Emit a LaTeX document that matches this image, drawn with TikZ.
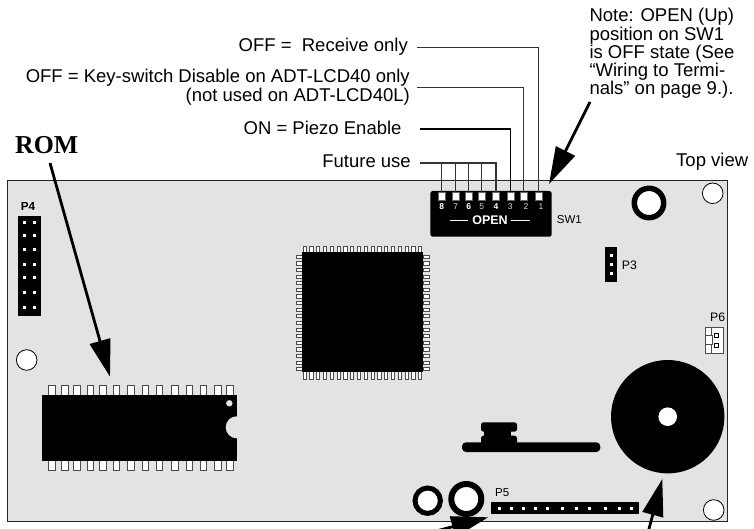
\documentclass[tikz,border=0pt]{standalone}
\usepackage{fontspec}
\setmainfont{Liberation Sans}
\newfontfamily\romfont{Liberation Serif}
\usetikzlibrary{arrows.meta}
\definecolor{boardgray}{gray}{0.89}

\begin{document}
\begin{tikzpicture}[x=1pt,y=-1pt]
\useasboundingbox (0,0) rectangle (754,529);
\clip (0,0) rectangle (754,529);
%%%%%%%%%%%%%%%%%%%%%%%%%%%%%%%%%%%%%%%%%%%%%%%%%%%%%%%%%%%%%%
%vars
\tikzstyle{label}=[inner sep=0pt,font={\fontsize{18.5}{16.25}\selectfont}]
\tikzstyle{small}=[inner sep=0pt,font={\fontsize{11.5}{12}\selectfont}]
\tikzstyle{small2}=[inner sep=0pt,font={\fontsize{12.3}{12}\selectfont}]
\tikzstyle{swwin}=[fill=white,draw=black!60,line width=0.4pt,minimum width=7pt,minimum height=8.5pt,inner sep=0pt]
\tikzstyle{swnum}=[inner sep=0pt,text=white,font={\fontsize{8.5}{9}\selectfont}]
\tikzstyle{hole}=[fill=white,draw=black,line width=0.8pt]
\tikzstyle{ring}=[fill=white,draw=black]
\tikzstyle{leg}=[fill=white,draw=black!70,line width=0.9pt]
\tikzstyle{dot}=[fill=white]
\tikzstyle{leader}=[draw=black!80,line width=1.2pt]
\tikzstyle{bigarrow}=[->,>={Triangle[length=37pt,width=21pt]},line width=2.8pt]

%%%%%%%%%%%%%%%%%%%%%%%%%%%%%%%%%%%%%%%%%%%%%%%%%%%%%%%%%%%%%%
%BOARD
\draw[fill=boardgray,draw=black!85,line width=1pt] (7,181) rectangle (727,521.5);
\draw[hole] (712.7,193.3) circle (10.3pt);
\draw[hole] (26.7,360) circle (10.3pt);
\draw[hole] (713.7,510) circle (10.3pt);
\draw[ring,line width=5.5pt] (649,203) circle (14.7pt);
\draw[ring,line width=5pt] (427.7,500.7) circle (12.7pt);
\draw[ring,line width=6pt] (466.3,499) circle (15pt);

%%%%%%%%%%%%%%%%%%%%%%%%%%%%%%%%%%%%%%%%%%%%%%%%%%%%%%%%%%%%%%
%headers
%P4
\fill[black] (18.3,215.7) rectangle (40.7,316);
\foreach \y in {223,235.7,249.7,264.3,277.7,292,307} {
  \fill[dot] (22.8,\y-1.5) rectangle (25.8,\y+1.5);
  \fill[dot] (32.8,\y-1.5) rectangle (35.8,\y+1.5);
}
\node[small,anchor=base west,font={\fontsize{11.7}{12}\bfseries\selectfont}] (P4) at (20.7,211) {P4};
%P3
\fill[black] (605,247.3) rectangle (617.3,282.3);
\foreach \y in {255,264,273.5} {
  \fill[dot] (609.5,\y-1.5) rectangle (612.5,\y+1.5);
}
\node[small2,anchor=base west] (P3) at (621.7,269) {P3};
%P5
\fill[black] (491,501.7) rectangle (639,514);
\foreach \x in {499,511,523.3,535.3,547.3,562.3,576,589.3,605,619.3,631.7} {
  \fill[dot] (\x-1.5,506.5) rectangle (\x+1.5,509.5);
}
\node[small,anchor=base west] (P5) at (495,496.7) {P5};
%P6
\draw[fill=white,draw=black!70,line width=0.7pt] (705.7,327.3) rectangle (723.3,353);
\draw[black!70,line width=0.7pt] (711,327.3) -- (711,353);
\draw[fill=white,draw=black!70,line width=0.7pt] (705.7,335) rectangle (712.3,344);
\draw[black,line width=0.7pt] (714.8,333) rectangle (718.8,337);
\draw[black,line width=0.7pt] (714.8,343) rectangle (718.8,347);
\node[small2,anchor=base west] (P6) at (710,321.7) {P6};

%%%%%%%%%%%%%%%%%%%%%%%%%%%%%%%%%%%%%%%%%%%%%%%%%%%%%%%%%%%%%%
%ROM chip
\foreach \x in {52,65,77,90.7,103,116.7,131,145.7,159.3,175,189.7,203.7,218,230} {
  \draw[leg] (\x-3.2,385.5) rectangle (\x+3.2,395.3);
  \draw[leg] (\x-3.2,460.7) rectangle (\x+3.2,470.5);
}
\fill[black] (41.7,395.3) rectangle (236.7,460.7);
\fill[boardgray] (236.7,427.3) circle (11pt);
\fill[boardgray] (229.3,403.3) circle (3.2pt);

%big chip
\foreach \i in {0,...,17} {
  \draw[leg,line width=0.8pt] (304.5+6.8*\i-1.6,246.5) rectangle (304.5+6.8*\i+1.6,252);
  \draw[leg,line width=0.8pt] (304.5+6.8*\i-1.6,371.5) rectangle (304.5+6.8*\i+1.6,379);
  \draw[leg,line width=0.8pt] (296.5,256.7+6.62*\i-1.6) rectangle (302.5,256.7+6.62*\i+1.6);
  \draw[leg,line width=0.8pt] (423,256.7+6.62*\i-1.6) rectangle (429,256.7+6.62*\i+1.6);
}
\fill[black] (302.3,251.7) rectangle (423.3,371.7);

%crystal
\fill[black,rounded corners=4pt] (462,442.3) rectangle (600.3,452);
\fill[black] (484,428) rectangle (510.7,445);
\fill[black,rounded corners=2.5pt] (481,422.3) rectangle (517,431.7);
\fill[black,rounded corners=2.5pt] (481,435.7) rectangle (517,446);

%piezo
\fill[black] (667.7,416.7) circle (56.7pt);
\fill[white] (667.7,416.7) circle (9.3pt);

%%%%%%%%%%%%%%%%%%%%%%%%%%%%%%%%%%%%%%%%%%%%%%%%%%%%%%%%%%%%%%
%SW1
\fill[black,rounded corners=2.5pt] (430.3,191) rectangle (551.7,236.7);
\foreach \n/\x in {1/538.7,2/523.7,3/510.3,4/496,5/481.7,6/468.7,7/455.7,8/441.7} {
  \node[swwin] (win\n) at (\x,196) {};
}
\node[swnum,font={\fontsize{8.5}{9}\bfseries\selectfont},anchor=base] (num8) at (441.7,209.3) {8};
\node[swnum,text=black!15,anchor=base] (num7) at (455.7,209.3) {7};
\node[swnum,font={\fontsize{8.5}{9}\bfseries\selectfont},anchor=base] (num6) at (468.7,209.3) {6};
\node[swnum,text=black!15,anchor=base] (num5) at (481.7,209.3) {5};
\node[swnum,font={\fontsize{8.5}{9}\bfseries\selectfont},anchor=base] (num4) at (496,209.3) {4};
\node[swnum,text=black!15,anchor=base] (num3) at (510.3,209.3) {3};
\node[swnum,text=black!15,anchor=base] (num2) at (526,209.3) {2};
\node[swnum,text=black!15,anchor=base] (num1) at (541,209.3) {1};
\node[inner sep=0pt,text=white,anchor=base,font={\fontsize{12.5}{13}\bfseries\selectfont}] (open) at (490,225) {OPEN};
\draw[white,line width=0.7pt] (450,220) -- (468,220);
\draw[white,line width=0.7pt] (511,220) -- (530,220);
\node[small,anchor=base west] (sw1) at (556.7,224) {SW1};

%%%%%%%%%%%%%%%%%%%%%%%%%%%%%%%%%%%%%%%%%%%%%%%%%%%%%%%%%%%%%%
%TEXT
\node[label,anchor=base east] (receive) at (408,52) {OFF =~~Receive only};
\node[label,anchor=north east,align=right] (keyswitch) at (410,69.2) {OFF = Key-switch Disable on ADT-LCD40 only\\(not used on ADT-LCD40L)};
\node[label,anchor=base east] (piezo) at (401.7,135) {ON = Piezo Enable};
\node[label,anchor=base east] (future) at (411,167.7) {Future use};
\node[label,anchor=base west] (topview) at (676,166.7) {Top view};
\node[label,anchor=north west,align=left] (note) at (589.3,8.2) {Note: OPEN (Up)\\position on SW1\\is OFF state (See\\“Wiring to Termi-\\nals” on page 9.).};
\node[inner sep=0pt,anchor=base west,font={\fontsize{25.8}{26}\romfont\bfseries\selectfont}] (rom) at (15,153.3) {ROM};

%%%%%%%%%%%%%%%%%%%%%%%%%%%%%%%%%%%%%%%%%%%%%%%%%%%%%%%%%%%%%%
%ARROWS
\coordinate (receiveEnd) at (417,47.7);
\coordinate (keyEnd) at (417,87.7);
\coordinate (piezoEnd) at (420,129);
\coordinate (futureEnd) at (420,163);
%leaders
\draw[leader] (receiveEnd) -| (win1.north);
\draw[leader] (keyEnd) -| (win2.north);
\draw[leader,draw=black] (piezoEnd) -| (win3.north);
\draw[leader] (futureEnd) -| (win4.north);
\draw[leader] (win5.north) -- (win5.north |- futureEnd);
\draw[leader] (win6.north) -- (win6.north |- futureEnd);
\draw[leader] (win7.north) -- (win7.north |- futureEnd);
\draw[leader] (win8.north) -- (win8.north |- futureEnd);

%big ones
\coordinate (romTail) at (50,163);
\coordinate (romTip) at (110,376.7);
\coordinate (swTail) at (590,102);
\coordinate (swTip) at (549,184);
\coordinate (ringTail) at (425,534);
\coordinate (ringTip) at (488.3,517.3);
\coordinate (piezoTail) at (646,540);
\coordinate (piezoTip) at (662.3,479);
\draw[bigarrow] (romTail) -- (romTip);
\draw[bigarrow] (swTail) -- (swTip);
\draw[bigarrow] (ringTail) -- (ringTip);
\draw[bigarrow] (piezoTail) -- (piezoTip);
\end{tikzpicture}
\end{document}
